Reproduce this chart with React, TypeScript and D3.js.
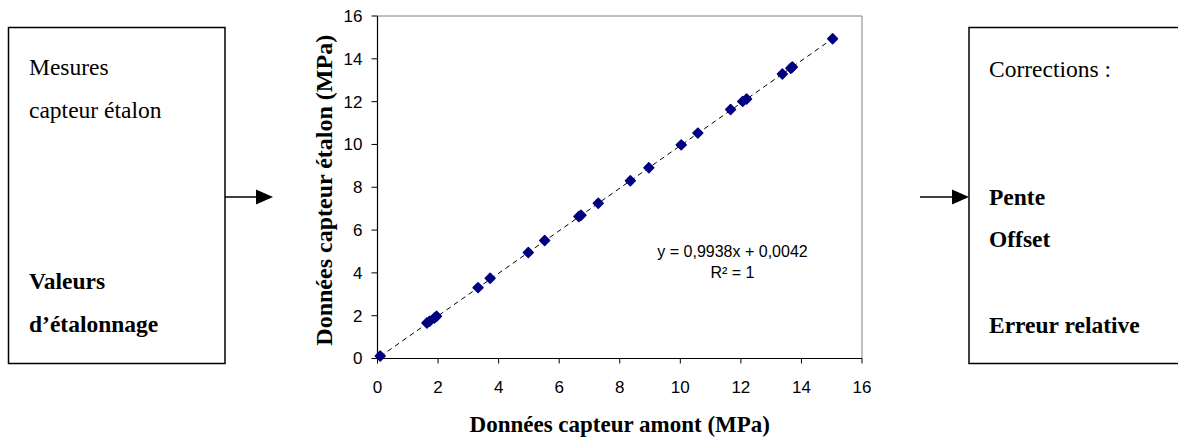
import React from "react";
import * as d3 from "d3";

const amont = [0.09, 1.63, 1.72, 1.88, 1.95, 3.32, 3.72, 4.98, 5.52, 6.65, 6.72, 7.29, 8.35, 8.96, 10.03, 10.58, 11.66, 12.06, 12.19, 13.37, 13.65, 13.7, 15.03];
const etalon = [0.12, 1.66, 1.74, 1.89, 1.97, 3.31, 3.75, 4.95, 5.51, 6.63, 6.69, 7.25, 8.3, 8.91, 9.98, 10.53, 11.63, 12.01, 12.12, 13.29, 13.56, 13.62, 14.94];
const xTicks = [0, 2, 4, 6, 8, 10, 12, 14, 16];
const yTicks = [0, 2, 4, 6, 8, 10, 12, 14, 16];
const slope = 0.9938;
const intercept = 0.0042;
const equationLabel = "y = 0,9938x + 0,0042";
const r2Label = "R² = 1";
const xTitle = "Données capteur amont (MPa)";
const yTitle = "Données capteur étalon (MPa)";
const leftTop = ["Mesures", "capteur étalon"];
const leftBottom = ["Valeurs", "d’étalonnage"];
const rightTop = ["Corrections :"];
const rightBottom = ["Pente", "Offset"];
const rightLast = "Erreur relative";

const W = 1178;
const H = 439;
const serif = "'Liberation Serif', 'Times New Roman', serif";
const sans = "'Liberation Sans', Arial, sans-serif";

export default function App() {
  const x = d3.scaleLinear().domain([0, 16]).range([377.5, 862]);
  const y = d3.scaleLinear().domain([0, 16]).range([358.5, 16]);
  const pts = amont.map((v, i) => [v, etalon[i]] as [number, number]);
  const xMin = d3.min(amont) as number;
  const xMax = d3.max(amont) as number;
  const trend = d3.line<number>().x((d) => x(d)).y((d) => y(slope * d + intercept))([xMin, xMax]) as string;
  const diamond = d3.symbol().type(d3.symbolDiamond2).size(62)() as string;
  const x0 = x(0), x1 = x(16), y0 = y(0), y1 = y(16);

  return (
    <svg width={W} height={H} style={{ position: "absolute", left: 0, top: 0, display: "block", background: "#fff" }}>
      {/* left box */}
      <rect x={8.5} y={27.5} width={216.5} height={336} fill="none" stroke="#000" strokeWidth={1.5} />
      <g fontFamily={serif} fontSize={23.5} fill="#000">
        <text x={29} y={75}>{leftTop[0]}</text>
        <text x={29} y={118}>{leftTop[1]}</text>
        <text x={29} y={289} fontWeight="bold">{leftBottom[0]}</text>
        <text x={29} y={332} fontWeight="bold">{leftBottom[1]}</text>
      </g>
      {/* left arrow */}
      <line x1={225} y1={197} x2={258} y2={197} stroke="#000" strokeWidth={1.5} />
      <path d="M256,189.5 L273,197 L256,204.5 Z" fill="#000" />

      {/* right box */}
      <rect x={969} y={27.5} width={260} height={336} fill="none" stroke="#000" strokeWidth={1.5} />
      <g fontFamily={serif} fontSize={23.5} fill="#000">
        <text x={989} y={77}>{rightTop[0]}</text>
        <text x={989} y={205} fontWeight="bold">{rightBottom[0]}</text>
        <text x={989} y={247} fontWeight="bold">{rightBottom[1]}</text>
        <text x={989} y={333} fontWeight="bold">{rightLast}</text>
      </g>
      {/* right arrow */}
      <line x1={920} y1={197} x2={955} y2={197} stroke="#000" strokeWidth={1.5} />
      <path d="M952,189.5 L969,197 L952,204.5 Z" fill="#000" />

      {/* plot frame */}
      <line x1={x0} y1={y1} x2={x1} y2={y1} stroke="#808080" strokeWidth={1} />
      <line x1={x1} y1={y1} x2={x1} y2={y0} stroke="#808080" strokeWidth={1} />
      <line x1={x0} y1={y0} x2={x1} y2={y0} stroke="#000" strokeWidth={1.2} />
      <line x1={x0} y1={y0} x2={x0} y2={y1} stroke="#000" strokeWidth={1.2} />

      {/* ticks */}
      <g fontFamily={sans} fontSize={17} fill="#000">
        {xTicks.map((t) => (
          <g key={"x" + t}>
            <line x1={x(t)} x2={x(t)} y1={y0} y2={y0 + 5} stroke="#000" strokeWidth={1} />
            <text x={x(t)} y={393} textAnchor="middle">{t}</text>
          </g>
        ))}
        {yTicks.map((t) => (
          <g key={"y" + t}>
            <line x1={x0 - 6} x2={x0} y1={y(t)} y2={y(t)} stroke="#000" strokeWidth={1} />
            <text x={362.5} y={y(t)} dy="0.35em" textAnchor="end">{t}</text>
          </g>
        ))}
      </g>

      {/* trendline */}
      <path d={trend} fill="none" stroke="#000" strokeWidth={1} strokeDasharray="5,4" />

      {/* points */}
      {pts.map((p, i) => (
        <path key={i} d={diamond} transform={`translate(${x(p[0])},${y(p[1])})`} fill="#000080" stroke="#000080" strokeWidth={1.5} strokeLinejoin="round" />
      ))}

      {/* equation */}
      <g fontFamily={sans} fontSize={16} fill="#000" textAnchor="middle">
        <text x={732.5} y={257}>{equationLabel}</text>
        <text x={732.5} y={278}>{r2Label}</text>
      </g>

      {/* axis titles */}
      <text x={(x0 + x1) / 2} y={432} textAnchor="middle" fontFamily={serif} fontWeight="bold" fontSize={23}>{xTitle}</text>
      <text transform={`translate(332,${(y0 + y1) / 2 + 3}) rotate(-90)`} textAnchor="middle" fontFamily={serif} fontWeight="bold" fontSize={24}>{yTitle}</text>
    </svg>
  );
}
